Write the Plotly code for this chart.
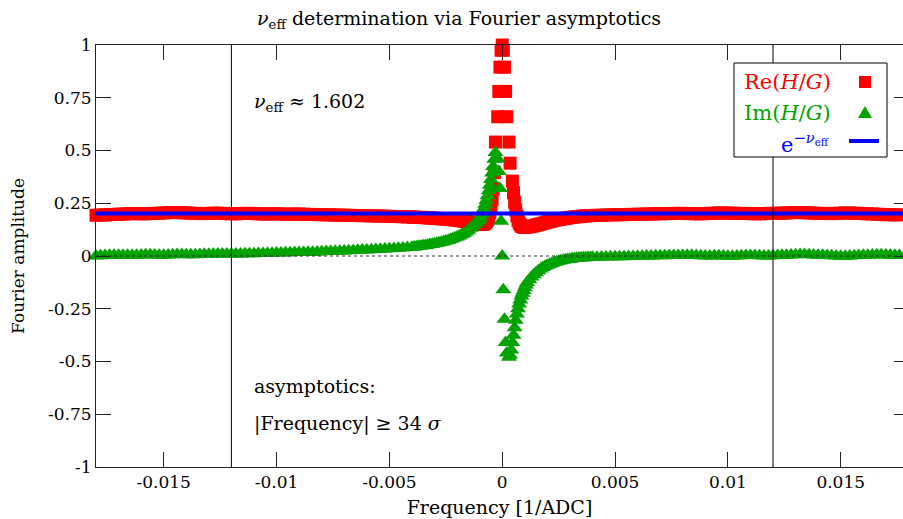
import numpy as np
import plotly.graph_objects as go

# ---------------------------------------------------------------- values
NU_EFF = 1.602            # fitted effective exponent
ASYMPTOTIC_CUT = 0.012    # |frequency| >= 34 sigma, in 1/ADC
FREQ_STEP = 1e-4          # FFT bin width, 1/ADC

# frequency bins (in units of FREQ_STEP) of the coarse and medium grids
BINS_FAR_LEFT = np.arange(-180, -41, 2)
BINS_NEAR_LEFT = np.arange(-40, -11)
BINS_NEAR_RIGHT = np.arange(12, 41)
BINS_FAR_RIGHT = np.arange(42, 181, 2)

# Re(H/G)
RE_FAR_LEFT = [
    0.193, 0.194, 0.195, 0.196, 0.197, 0.198, 0.199, 0.200, 0.201, 0.201,
    0.200, 0.200, 0.201, 0.202, 0.203, 0.204, 0.205, 0.206, 0.206, 0.205,
    0.204, 0.203, 0.202, 0.201, 0.201, 0.202, 0.203, 0.203, 0.202, 0.201,
    0.200, 0.200, 0.201, 0.202, 0.202, 0.201, 0.200, 0.199, 0.199, 0.200,
    0.200, 0.199, 0.198, 0.198, 0.199, 0.199, 0.198, 0.197, 0.197, 0.196,
    0.196, 0.195, 0.195, 0.194, 0.194, 0.193, 0.193, 0.192, 0.192, 0.191,
    0.191, 0.190, 0.190, 0.189, 0.189, 0.188, 0.187, 0.187, 0.186, 0.185,
]
RE_NEAR_LEFT = [
    0.185, 0.184, 0.184, 0.183, 0.183, 0.182, 0.182, 0.181, 0.180, 0.180,
    0.179, 0.178, 0.177, 0.177, 0.176, 0.175, 0.174, 0.173, 0.172, 0.171,
    0.170, 0.168, 0.167, 0.165, 0.164, 0.162, 0.160, 0.158, 0.156,
]
RE_CORE_FREQ = [
    -0.00110, -0.00105, -0.00100, -0.00095, -0.00090, -0.00085, -0.00080,
    -0.00075, -0.00070, -0.00065, -0.00060, -0.00055, -0.00050, -0.00045,
    -0.00040, -0.00035, -0.00030, -0.00020, -0.00015, -0.00010, -0.00005,
    0.0, 0.00005, 0.00010, 0.00015, 0.00020, 0.00030, 0.00035, 0.00045,
    0.00050, 0.00055, 0.00060, 0.00065, 0.00070, 0.00075, 0.00080, 0.00085,
    0.00090, 0.00095, 0.00100, 0.00105, 0.00110,
]
RE_CORE = [
    0.154, 0.152, 0.151, 0.150, 0.150, 0.151, 0.153,
    0.157, 0.163, 0.172, 0.186, 0.205, 0.232, 0.268,
    0.318, 0.395, 0.540, 0.660, 0.780, 0.895, 0.975,
    1.000, 0.975, 0.895, 0.780, 0.660, 0.540, 0.440, 0.355,
    0.300, 0.255, 0.218, 0.190, 0.170, 0.157, 0.148, 0.142,
    0.139, 0.137, 0.137, 0.137, 0.138,
]
RE_NEAR_RIGHT = [
    0.139, 0.141, 0.143, 0.146, 0.149, 0.152, 0.155, 0.158, 0.161, 0.164,
    0.166, 0.169, 0.171, 0.173, 0.175, 0.177, 0.179, 0.180, 0.182, 0.183,
    0.185, 0.186, 0.187, 0.188, 0.189, 0.190, 0.191, 0.192, 0.192,
]
RE_FAR_RIGHT = [
    0.193, 0.193, 0.194, 0.195, 0.195, 0.196, 0.196, 0.197, 0.197, 0.198,
    0.198, 0.199, 0.199, 0.200, 0.200, 0.201, 0.201, 0.202, 0.202, 0.202,
    0.201, 0.201, 0.200, 0.200, 0.201, 0.202, 0.203, 0.204, 0.204, 0.203,
    0.203, 0.202, 0.202, 0.201, 0.201, 0.200, 0.200, 0.201, 0.202, 0.202,
    0.203, 0.203, 0.204, 0.205, 0.206, 0.206, 0.205, 0.204, 0.203, 0.202,
    0.202, 0.201, 0.201, 0.202, 0.203, 0.204, 0.204, 0.203, 0.202, 0.201,
    0.200, 0.199, 0.198, 0.197, 0.196, 0.196, 0.195, 0.195, 0.194, 0.193,
]

# Im(H/G)
IM_FAR_LEFT = [
    0.000, 0.001, 0.002, 0.003, 0.004, 0.004, 0.003, 0.003, 0.003, 0.004,
    0.005, 0.006, 0.006, 0.005, 0.004, 0.004, 0.005, 0.006, 0.007, 0.007,
    0.006, 0.006, 0.006, 0.007, 0.008, 0.008, 0.008, 0.009, 0.009, 0.009,
    0.010, 0.010, 0.010, 0.011, 0.011, 0.011, 0.012, 0.012, 0.013, 0.013,
    0.014, 0.014, 0.015, 0.015, 0.016, 0.016, 0.017, 0.018, 0.018, 0.019,
    0.020, 0.021, 0.021, 0.022, 0.023, 0.024, 0.025, 0.026, 0.027, 0.028,
    0.029, 0.030, 0.031, 0.032, 0.033, 0.034, 0.036, 0.037, 0.038, 0.040,
]
IM_NEAR_LEFT = [
    0.042, 0.043, 0.044, 0.046, 0.047, 0.049, 0.050, 0.052, 0.054, 0.056,
    0.058, 0.060, 0.063, 0.065, 0.068, 0.071, 0.074, 0.078, 0.082, 0.086,
    0.090, 0.095, 0.101, 0.107, 0.114, 0.122, 0.131, 0.141, 0.151,
]
IM_CORE_FREQ = [
    -0.00110, -0.00105, -0.00100, -0.00095, -0.00090, -0.00085, -0.00080,
    -0.00075, -0.00070, -0.00065, -0.00060, -0.00055, -0.00050, -0.00045,
    -0.00040, -0.00035, -0.00030, -0.00020, -0.00015, -0.00010, -0.00005,
    0.0, 0.00005, 0.00010, 0.00015, 0.00020, 0.00030, 0.00035, 0.00040,
    0.00045, 0.00050, 0.00055, 0.00060, 0.00065, 0.00070, 0.00075, 0.00080,
    0.00085, 0.00090, 0.00095, 0.00100, 0.00105, 0.00110,
]
IM_CORE = [
    0.160, 0.168, 0.177, 0.188, 0.200, 0.213, 0.228,
    0.245, 0.264, 0.285, 0.309, 0.335, 0.363, 0.393,
    0.424, 0.458, 0.490, 0.460, 0.400, 0.320, 0.165,
    0.000, -0.160, -0.300, -0.410, -0.460, -0.480, -0.470, -0.445,
    -0.410, -0.375, -0.340, -0.305, -0.275, -0.250, -0.228, -0.208,
    -0.190, -0.176, -0.163, -0.150, -0.137, -0.125,
]
IM_NEAR_RIGHT = [
    -0.112, -0.100, -0.089, -0.079, -0.070, -0.062, -0.055, -0.049, -0.044, -0.039,
    -0.035, -0.031, -0.028, -0.025, -0.022, -0.020, -0.018, -0.016, -0.015, -0.013,
    -0.012, -0.011, -0.010, -0.009, -0.008, -0.008, -0.007, -0.007, -0.006,
]
IM_FAR_RIGHT = [
    -0.006, -0.005, -0.005, -0.004, -0.004, -0.003, -0.003, -0.002, -0.002, -0.001,
    -0.001, 0.000, 0.000, 0.001, 0.001, 0.001, 0.002, 0.002, 0.002, 0.002,
    0.003, 0.003, 0.002, 0.001, 0.000, 0.000, 0.001, 0.001, 0.000, -0.001,
    -0.001, 0.000, 0.001, 0.002, 0.002, 0.002, 0.001, 0.000, 0.000, 0.001,
    0.002, 0.003, 0.004, 0.005, 0.006, 0.007, 0.007, 0.006, 0.005, 0.004,
    0.003, 0.002, 0.001, 0.000, -0.001, -0.001, 0.000, 0.001, 0.002, 0.003,
    0.004, 0.005, 0.006, 0.006, 0.005, 0.004, 0.003, 0.002, 0.001, 0.000,
]

X_TICKS = [-0.015, -0.01, -0.005, 0, 0.005, 0.01, 0.015]
X_TICK_TEXT = ["-0.015", "-0.01", "-0.005", "0", "0.005", "0.01", "0.015"]
Y_TICKS = [1, 0.75, 0.5, 0.25, 0, -0.25, -0.5, -0.75, -1]
Y_TICK_TEXT = ["1", "0.75", "0.5", "0.25", "0", "-0.25", "-0.5", "-0.75", "-1"]

# ---------------------------------------------------------------- assemble
def grid(bins):
    return list(np.round(bins * FREQ_STEP, 6))

freq_re = grid(BINS_FAR_LEFT) + grid(BINS_NEAR_LEFT) + RE_CORE_FREQ + grid(BINS_NEAR_RIGHT) + grid(BINS_FAR_RIGHT)
re_vals = RE_FAR_LEFT + RE_NEAR_LEFT + RE_CORE + RE_NEAR_RIGHT + RE_FAR_RIGHT
freq_im = grid(BINS_FAR_LEFT) + grid(BINS_NEAR_LEFT) + IM_CORE_FREQ + grid(BINS_NEAR_RIGHT) + grid(BINS_FAR_RIGHT)
im_vals = IM_FAR_LEFT + IM_NEAR_LEFT + IM_CORE + IM_NEAR_RIGHT + IM_FAR_RIGHT
assert len(freq_re) == len(re_vals) and len(freq_im) == len(im_vals)

asymptote = float(np.exp(-NU_EFF))
f_lo, f_hi = float(BINS_FAR_LEFT[0] * FREQ_STEP), float(BINS_FAR_RIGHT[-1] * FREQ_STEP)

# ---------------------------------------------------------------- styling
W, H = 903, 519
M_L, M_R, M_T, M_B = 96, 0, 45, 52
PW, PH = W - M_L - M_R, H - M_T - M_B
FONT = "DejaVu Serif"
RED, GREEN, BLUE = "#ff0000", "#00a300", "#0000ff"
AXIS = "#222222"

def px_x(px):
    return (px - M_L) / PW

def px_y(py):
    return (H - M_B - py) / PH

fig = go.Figure()
fig.add_trace(go.Scatter(
    x=freq_re, y=re_vals, mode="markers", cliponaxis=False, showlegend=False,
    marker=dict(symbol="square", size=13, color=RED, line=dict(width=0)),
))
fig.add_trace(go.Scatter(
    x=freq_im, y=im_vals, mode="markers", cliponaxis=False, showlegend=False,
    marker=dict(symbol="triangle-up", size=14, color=GREEN, line=dict(width=0)),
))
fig.add_trace(go.Scatter(
    x=[f_lo, f_hi], y=[asymptote, asymptote], mode="lines", showlegend=False,
    line=dict(color=BLUE, width=4),
))

x_right = -0.018 + PW / 22567.0
fig.update_layout(
    width=W, height=H,
    margin=dict(l=M_L, r=M_R, t=M_T, b=M_B),
    paper_bgcolor="white", plot_bgcolor="white",
    font=dict(family=FONT, size=17, color="black"),
    title=dict(
        text="<i>ν</i><sub>eff</sub> determination via Fourier asymptotics",
        xref="container", x=459 / W, xanchor="center",
        yref="container", y=1 - 18 / H, yanchor="middle",
        font=dict(family=FONT, size=19, color="black"),
    ),
    xaxis=dict(
        range=[-0.018, x_right], tickvals=X_TICKS, ticktext=X_TICK_TEXT,
        ticks="inside", ticklen=15, tickwidth=1, tickcolor=AXIS,
        showline=True, linecolor=AXIS, linewidth=1, mirror="ticks",
        showgrid=False, zeroline=False, tickfont=dict(family=FONT, size=17),
        title=dict(text="Frequency [1/ADC]", standoff=9,
                   font=dict(family=FONT, size=19, color="black")),
    ),
    yaxis=dict(
        range=[-1, 1], tickvals=Y_TICKS, ticktext=Y_TICK_TEXT,
        ticks="inside", ticklen=15, tickwidth=1, tickcolor=AXIS,
        showline=True, linecolor=AXIS, linewidth=1, mirror=False,
        showgrid=False, zeroline=False, tickfont=dict(family=FONT, size=17),
        title=dict(text="Fourier amplitude", standoff=19,
                   font=dict(family=FONT, size=17, color="black")),
    ),
    yaxis2=dict(
        overlaying="y", side="right", anchor="x", range=[-1, 1],
        tickvals=Y_TICKS, showticklabels=False, ticks="inside", ticklen=9,
        tickwidth=1, tickcolor=AXIS, showline=False, showgrid=False, zeroline=False,
    ),
)
# hidden trace so the right-hand tick axis is laid out
fig.add_trace(go.Scatter(x=[0], y=[0], yaxis="y2", mode="markers",
                         marker=dict(opacity=0), showlegend=False, hoverinfo="skip"))

shapes = [
    # asymptotic region boundaries
    dict(type="line", xref="x", yref="paper", x0=-ASYMPTOTIC_CUT, x1=-ASYMPTOTIC_CUT,
         y0=0, y1=1, line=dict(color="black", width=1), layer="above"),
    dict(type="line", xref="x", yref="paper", x0=ASYMPTOTIC_CUT, x1=ASYMPTOTIC_CUT,
         y0=0, y1=1, line=dict(color="black", width=1), layer="above"),
    # zero axis
    dict(type="line", xref="paper", yref="y", x0=0, x1=1, y0=0, y1=0,
         line=dict(color="#333333", width=1.2, dash="dot"), layer="above"),
    # key box
    dict(type="rect", xref="paper", yref="paper", x0=px_x(734), x1=px_x(887),
         y0=px_y(157), y1=px_y(63), line=dict(color="black", width=1),
         fillcolor="white", layer="above"),
    # key samples
    dict(type="rect", xref="paper", yref="paper", x0=px_x(859), x1=px_x(871),
         y0=px_y(88), y1=px_y(76), line=dict(width=0), fillcolor=RED, layer="above"),
    dict(type="path", xref="paper", yref="paper",
         path=f"M {px_x(858)} {px_y(118)} L {px_x(872)} {px_y(118)} L {px_x(865)} {px_y(106)} Z",
         line=dict(width=0), fillcolor=GREEN, layer="above"),
    dict(type="line", xref="paper", yref="paper", x0=px_x(849), x1=px_x(879),
         y0=px_y(141), y1=px_y(141), line=dict(color=BLUE, width=4), layer="above"),
]
fig.update_layout(shapes=shapes)

def note(text, x, y, anchor="left", color="black", size=17):
    fig.add_annotation(text=text, xref="paper", yref="paper", x=px_x(x), y=px_y(y),
                       xanchor=anchor, yanchor="middle", showarrow=False,
                       font=dict(family=FONT, size=size, color=color))

note(f"<i>ν</i><sub>eff</sub> ≈ {NU_EFF}", 252, 102, size=19)
note("asymptotics:", 252, 386, size=19)
note("|Frequency| ≥ 34 <i>σ</i>", 252, 423, size=19)
note("Re(<i>H</i>/<i>G</i>)", 833, 82, anchor="right", color=RED, size=21)
note("Im(<i>H</i>/<i>G</i>)", 833, 113, anchor="right", color=GREEN, size=21)
note("e<sup>−<i>ν</i><sub>eff</sub></sup>", 831, 143, anchor="right", color=BLUE, size=21)

fig.write_html("out.html")
